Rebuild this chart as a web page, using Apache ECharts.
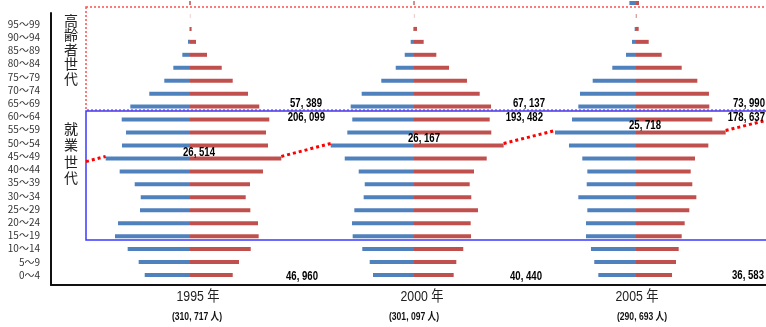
<!DOCTYPE html>
<html>
<head>
<meta charset="utf-8">
<script src="https://cdn.jsdelivr.net/npm/echarts@6/dist/echarts.min.js"></script>
<style>
  html, body { margin: 0; padding: 0; background: #fff; }
  #chart { width: 766px; height: 327px; }
</style>
</head>
<body>
<div id="chart"></div>
<script>
// 年齢階級（下から上へ）
const ageLabels = ['0～4', '5～9', '10～14', '15～19', '20～24', '25～29', '30～34', '35～39',
  '40～44', '45～49', '50～54', '55～59', '60～64', '65～69', '70～74', '75～79',
  '80～84', '85～89', '90～94', '95～99'];
// 棒の行：100歳以上と不詳を含む
const barRows = ageLabels.concat(['100～', '不詳']);

const years = ['1995 年', '2000 年', '2005 年'];
const totals = ['(310, 717 人)', '(301, 097 人)', '(290, 693 人)'];

// 男性（青）・女性（赤）人口
const male1995 = [6840, 7750, 9410, 11330, 10870, 7550, 7440, 8350, 10620, 12730, 10270,
  9660, 10310, 9010, 6150, 3880, 2520, 1160, 300, 80, 10, 120];
const female1995 = [6450, 7400, 9170, 10370, 10270, 9110, 8410, 9060, 11020, 13790, 11780,
  11480, 11970, 10460, 8760, 6450, 4790, 2570, 910, 240, 30, 120];
const male2000 = [6190, 6690, 7810, 9260, 9360, 9010, 7600, 7440, 8350, 10460, 12580,
  10070, 9320, 9560, 7900, 4940, 2760, 1400, 500, 100, 10, 100];
const female2000 = [5990, 6390, 7440, 8610, 8560, 9660, 8650, 8410, 9060, 10980, 13540,
  11670, 11430, 11630, 9920, 8000, 5290, 3370, 1460, 450, 40, 100];
const male2005 = [5690, 6300, 6800, 7550, 7550, 7350, 8710, 7440, 7350, 8110, 10120,
  12230, 9660, 8710, 8460, 6540, 3580, 1510, 600, 200, 30, 1000];
const female2005 = [5440, 6040, 6450, 6900, 7350, 8050, 9110, 8500, 8260, 8910, 10920,
  13540, 11520, 11070, 11020, 9260, 6900, 3880, 1920, 410, 80, 450];

// 世代別人口（高齢者・就業・年少）とピーク階級
const elderly = ['57, 389', '67, 137', '73, 990'];
const working = ['206, 099', '193, 482', '178, 637'];
const children = ['46, 960', '40, 440', '36, 583'];
const peakValue = ['26, 514', '26, 167', '25, 718'];
const peakRow = [9, 10, 11];

const maleData = [male1995, male2000, male2005];
const femaleData = [female1995, female2000, female2005];
const centers = [190, 414, 636];
const halfWidth = 110;
const axisMax = 16610;

const BLUE = '#4f81bd';
const RED = '#c0504d';
const NUM_FONT = 'bold 12px "Liberation Sans", sans-serif';

const chart = echarts.init(document.getElementById('chart'));

const grids = [];
const xAxes = [];
const yAxes = [];
const series = [];

centers.forEach((c, i) => {
  grids.push({ left: c - halfWidth, width: halfWidth * 2, top: 3, bottom: 52 });
  xAxes.push({ type: 'value', gridIndex: i, min: -axisMax, max: axisMax, show: false });
  yAxes.push({ type: 'category', gridIndex: i, data: barRows, boundaryGap: false, show: false });
  series.push({
    type: 'bar', xAxisIndex: i, yAxisIndex: i, stack: 'p' + i, barWidth: 4,
    itemStyle: { color: BLUE },
    data: maleData[i].map((v) => -v),
  });
  series.push({
    type: 'bar', xAxisIndex: i, yAxisIndex: i, stack: 'p' + i, barWidth: 4,
    itemStyle: { color: RED },
    data: femaleData[i],
  });
});

// 枠線（左と下の軸線）
grids.push({ left: 51, right: -5, top: 13, bottom: 42 });
xAxes.push({
  type: 'value', gridIndex: 3, min: 0, max: 1,
  axisLine: { show: true, onZero: false, lineStyle: { color: '#111', width: 2 } },
  axisTick: { show: false }, axisLabel: { show: false }, splitLine: { show: false },
});
yAxes.push({
  type: 'value', gridIndex: 3, min: 0, max: 1,
  axisLine: { show: true, onZero: false, lineStyle: { color: '#111', width: 2 } },
  axisTick: { show: false }, axisLabel: { show: false }, splitLine: { show: false },
});

// 年齢階級ラベル
grids.push({ left: 51, right: 0, top: 24, bottom: 52 });
xAxes.push({ type: 'value', gridIndex: 4, show: false });
yAxes.push({
  type: 'category', gridIndex: 4, data: ageLabels, boundaryGap: false,
  axisLine: { show: false }, axisTick: { show: false },
  axisLabel: {
    margin: 11, fontSize: 10, color: '#333', fontFamily: '"Noto Sans CJK JP", sans-serif',
  },
});

const graphic = [];

// 高齢者世代（赤点線）・就業世代（青線）の枠
graphic.push({
  type: 'rect', shape: { x: 86, y: 7, width: 700, height: 103 },
  style: { fill: null, stroke: '#ff4d4d', lineWidth: 1.5, lineDash: [2, 2] }, z: 10,
});
graphic.push({
  type: 'rect', shape: { x: 86, y: 111, width: 700, height: 129 },
  style: { fill: null, stroke: '#3a3aff', lineWidth: 1.5 }, z: 10,
});

// 縦書きラベル
graphic.push({
  type: 'text', left: 64, top: 13,
  style: { text: '高\n齢\n者\n世\n代', font: '14px "Noto Sans CJK JP"', fill: '#222', lineHeight: 14.5 },
});
graphic.push({
  type: 'text', left: 64, top: 120,
  style: { text: '就\n業\n世\n代', font: '14px "Noto Sans CJK JP"', fill: '#222', lineHeight: 16.5 },
});

// 数値ラベル（右端の位置）
const elderlyPos = [[322, 104], [545, 104], [765, 104]];
const workingPos = [[325, 118], [543, 118], [765, 118]];
const childPos = [[318, 277], [542, 277], [764, 276]];
const peakPos = [[215, 153], [440, 139], [661, 126]];
const yearX = [198, 422, 637];
const totalX = [197, 414, 642];

const addNum = (text, p) => {
  graphic.push({
    type: 'text', x: p[0], y: p[1], z: 20, scaleX: 0.8,
    style: { text, font: NUM_FONT, fill: '#000', textAlign: 'right', textVerticalAlign: 'middle' },
  });
};

for (let i = 0; i < 3; i++) {
  addNum(elderly[i], elderlyPos[i]);
  addNum(working[i], workingPos[i]);
  addNum(children[i], childPos[i]);
  addNum(peakValue[i], peakPos[i]);
  graphic.push({
    type: 'text', x: yearX[i], y: 297, scaleX: 0.82,
    style: {
      text: years[i], font: '15px "Liberation Sans", "Noto Sans CJK JP"', fill: '#222',
      textAlign: 'center', textVerticalAlign: 'middle',
    },
  });
  graphic.push({
    type: 'text', x: totalX[i], y: 317, scaleX: 0.78,
    style: {
      text: totals[i], font: 'bold 11px "Liberation Sans", "Noto Sans CJK JP"', fill: '#111',
      textAlign: 'center', textVerticalAlign: 'middle',
    },
  });
}

chart.setOption({
  animation: false,
  grid: grids,
  xAxis: xAxes,
  yAxis: yAxes,
  series,
  graphic,
});

// 団塊世代の推移を示す赤点線（棒の端から計算）
const px = (g, v, row) => chart.convertToPixel({ gridIndex: g }, [v, row]);
const ends = [];
for (let i = 0; i < 3; i++) {
  const r = peakRow[i];
  ends.push({ left: px(i, -maleData[i][r], r), right: px(i, femaleData[i][r], r) });
}
const lift = 2;
const segs = [];
const s1 = (ends[1].left[1] - ends[0].right[1]) / (ends[1].left[0] - ends[0].right[0]);
const s2 = (ends[2].left[1] - ends[1].right[1]) / (ends[2].left[0] - ends[1].right[0]);
segs.push([[86, ends[0].left[1] + s1 * (86 - ends[0].left[0])], ends[0].left]);
segs.push([ends[0].right, ends[1].left]);
segs.push([ends[1].right, ends[2].left]);
segs.push([ends[2].right, [770, ends[2].right[1] + s2 * (770 - ends[2].right[0])]]);

const trend = segs.map((pts) => ({
  type: 'polyline', z: 15,
  shape: { points: pts.map((p) => [p[0], p[1] - lift]) },
  style: { stroke: '#ff0000', lineWidth: 3, lineDash: [3, 3], fill: null },
}));

chart.setOption({ graphic: graphic.concat(trend) });
</script>
</body>
</html>
